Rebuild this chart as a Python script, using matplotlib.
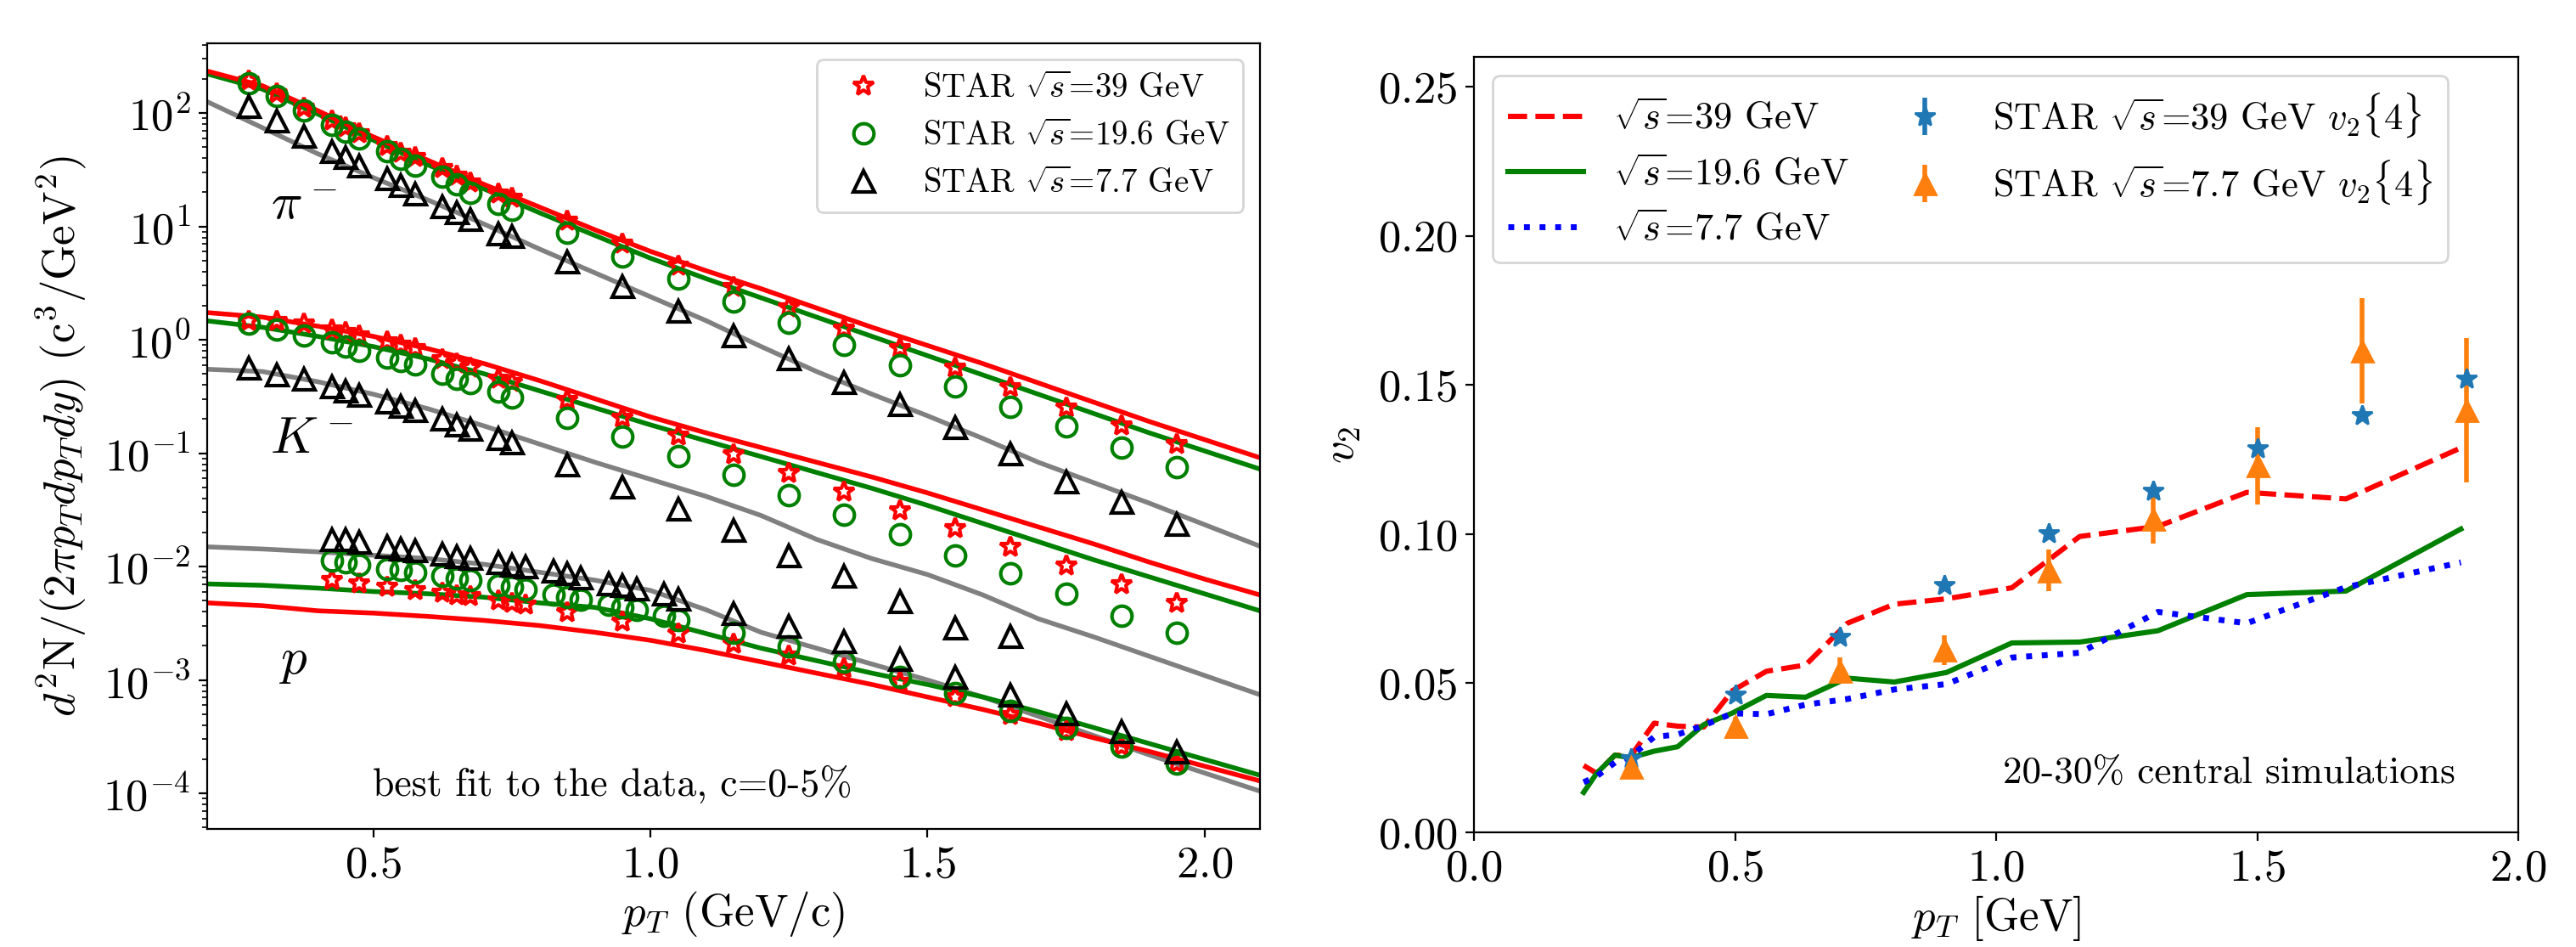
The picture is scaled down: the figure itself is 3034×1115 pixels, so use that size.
import numpy as np
import matplotlib
matplotlib.use("Agg")
import matplotlib.pyplot as plt

plt.rcParams.update({
    "font.family": "serif",
    "font.serif": ["cmr10"],
    "mathtext.fontset": "cm",
    "axes.formatter.use_mathtext": True,
    "axes.unicode_minus": False,
})

# ---------------- left panel data: STAR spectra ----------------
pt_pi = [0.275, 0.325, 0.375, 0.425, 0.45, 0.475, 0.525, 0.55, 0.575, 0.625, 0.65, 0.675,
         0.725, 0.75, 0.85, 0.95, 1.05, 1.15, 1.25, 1.35, 1.45, 1.55, 1.65, 1.75, 1.85, 1.95]
pi_39 = [192.8, 148.9, 111.7, 86.3, 74.8, 66.7, 51.5, 44.6, 40.9, 32.5, 28.1, 24.4, 19.4, 17.8,
         11.2, 7.09, 4.48, 2.91, 1.92, 1.26, 0.846, 0.566, 0.379, 0.253, 0.174, 0.120]
pi_19 = [182, 140.6, 105.4, 79.2, 68.6, 59.4, 45.9, 39.7, 34.4, 27.4, 23.7, 19.9, 15.8, 14.1,
         8.82, 5.47, 3.46, 2.18, 1.42, 0.906, 0.593, 0.390, 0.256, 0.171, 0.112, 0.075]
pi_77 = [115, 86.3, 62.9, 45.9, 40.9, 34.4, 26.6, 23.0, 19.4, 15.0, 13.3, 11.6, 8.67, 8.18,
         4.88, 2.99, 1.79, 1.10, 0.68, 0.425, 0.268, 0.169, 0.0995, 0.0561, 0.0369, 0.0237]

pt_K = pt_pi
K_39 = [1.46, 1.46, 1.38, 1.23, 1.16, 1.10, 0.96, 0.897, 0.847, 0.673, 0.617, 0.566, 0.450, 0.425,
        0.292, 0.206, 0.143, 0.0975, 0.0668, 0.0457, 0.0313, 0.0219, 0.0149, 0.0102, 0.00692, 0.00478]
K_19 = [1.38, 1.23, 1.10, 0.949, 0.871, 0.798, 0.692, 0.653, 0.606, 0.505, 0.450, 0.413, 0.347, 0.310,
        0.204, 0.139, 0.0946, 0.0646, 0.0425, 0.0285, 0.0193, 0.0126, 0.00869, 0.00575, 0.00369, 0.00263]
pt_K77 = pt_pi[:23]
K_77 = [0.566, 0.490, 0.450, 0.390, 0.357, 0.328, 0.284, 0.261, 0.239, 0.201, 0.179, 0.165, 0.135,
        0.124, 0.0787, 0.0505, 0.0322, 0.0209, 0.0126, 0.00832, 0.00493, 0.00287, 0.00243]

pt_p = [0.425, 0.45, 0.475, 0.525, 0.55, 0.575, 0.625, 0.65, 0.675, 0.725, 0.75, 0.775, 0.825, 0.85,
        0.875, 0.925, 0.95, 0.975, 1.025, 1.05, 1.15, 1.25, 1.35, 1.45, 1.55, 1.65, 1.75, 1.85, 1.95]
p_77 = [0.0174, 0.0174, 0.0164, 0.0151, 0.0145, 0.0140, 0.0129, 0.0124, 0.0120, 0.0110, 0.0103, 0.0100,
        0.00912, 0.00869, 0.00806, 0.00713, 0.00691, 0.00643, 0.00575, 0.00524, 0.00390, 0.00301,
        0.00221, 0.00153, 0.00107, 0.00074, 0.000505, 0.000354, 0.000234]
p_19 = [0.0113, 0.0110, 0.0103, 0.00952, 0.00929, 0.00885, 0.00822, 0.00782, 0.00759, 0.00691, 0.00658,
        0.00631, 0.00568, 0.00541, 0.00515, 0.00458, 0.00436, 0.00415, 0.00367, 0.00340, 0.00263,
        0.00199, 0.00146, 0.00107, 0.000763, 0.000537, 0.000376, 0.000260, 0.000183]
pt_p39 = [0.425, 0.475, 0.525, 0.575, 0.625, 0.65, 0.675, 0.725, 0.75, 0.775, 0.85, 0.95, 1.05, 1.15,
          1.25, 1.35, 1.45, 1.55, 1.65, 1.75, 1.85, 1.95]
p_39 = [0.00759, 0.00713, 0.00658, 0.00619, 0.00582, 0.00557, 0.00547, 0.00499, 0.00478, 0.00463,
        0.00397, 0.00324, 0.00258, 0.00208, 0.00163, 0.00127, 0.000964, 0.000709, 0.000490,
        0.000354, 0.000260, 0.000183]

# model curves (log10 of yield) on a pT grid
pt_model = [0.2, 0.3, 0.4, 0.5, 0.6, 0.7, 0.8, 0.9, 1.0, 1.1, 1.2, 1.3, 1.4, 1.5, 1.6, 1.7, 1.8, 1.9, 2.0, 2.1]
lpi_39 = [2.37, 2.24, 2.02, 1.79, 1.58, 1.37, 1.17, 0.97, 0.78, 0.61, 0.45, 0.28, 0.11, -0.05,
          -0.21, -0.38, -0.55, -0.72, -0.88, -1.04]
lpi_19 = [2.345, 2.21, 1.99, 1.76, 1.54, 1.33, 1.12, 0.92, 0.72, 0.54, 0.37, 0.20, 0.03, -0.14,
          -0.31, -0.48, -0.65, -0.82, -0.98, -1.14]
lpi_77 = [2.10, 1.87, 1.64, 1.43, 1.23, 1.02, 0.80, 0.59, 0.38, 0.17, -0.06, -0.28, -0.48, -0.67,
          -0.87, -1.08, -1.26, -1.44, -1.63, -1.82]
lK_39 = [0.24, 0.20, 0.12, 0.03, -0.08, -0.21, -0.36, -0.52, -0.68, -0.82, -0.95, -1.08, -1.21,
         -1.35, -1.50, -1.65, -1.80, -1.96, -2.11, -2.25]
lK_19 = [0.167, 0.11, 0.03, -0.06, -0.17, -0.30, -0.45, -0.60, -0.75, -0.89, -1.03, -1.17, -1.31,
         -1.46, -1.62, -1.78, -1.94, -2.09, -2.24, -2.39]
lK_77 = [-0.26, -0.28, -0.37, -0.48, -0.61, -0.76, -0.92, -1.08, -1.23, -1.38, -1.55, -1.76, -1.93,
         -2.07, -2.25, -2.46, -2.62, -2.79, -2.96, -3.13]
lp_39 = [-2.32, -2.345, -2.39, -2.41, -2.44, -2.475, -2.52, -2.58, -2.65, -2.74, -2.84, -2.94, -3.04,
         -3.15, -3.26, -3.38, -3.51, -3.63, -3.76, -3.89]
lp_19 = [-2.153, -2.165, -2.19, -2.22, -2.24, -2.27, -2.32, -2.36, -2.46, -2.59, -2.72, -2.83, -2.94,
         -3.04, -3.15, -3.28, -3.42, -3.56, -3.70, -3.84]
lp_77 = [-1.826, -1.845, -1.87, -1.90, -1.93, -1.98, -2.05, -2.12, -2.21, -2.38, -2.58, -2.72, -2.86,
         -3.00, -3.15, -3.32, -3.49, -3.66, -3.82, -3.98]

# ---------------- right panel data: v2 ----------------
pt_v2 = [0.21, 0.235, 0.27, 0.30, 0.345, 0.39, 0.44, 0.495, 0.56, 0.635, 0.715, 0.805, 0.905,
         1.03, 1.16, 1.31, 1.48, 1.67, 1.89]
v2_39 = [0.0224, 0.0198, 0.0259, 0.0255, 0.0366, 0.0356, 0.0353, 0.0475, 0.0540, 0.0561, 0.0701,
         0.0765, 0.0783, 0.0820, 0.0992, 0.1026, 0.1140, 0.1118, 0.1289]
v2_19 = [0.0134, 0.0198, 0.0259, 0.0250, 0.0272, 0.0287, 0.0361, 0.0400, 0.0459, 0.0453, 0.0517,
         0.0504, 0.0536, 0.0635, 0.0638, 0.0676, 0.0797, 0.0809, 0.1017]
v2_77 = [0.0168, 0.0188, 0.0234, 0.0254, 0.0320, 0.0328, 0.0358, 0.0399, 0.0396, 0.0428, 0.0447,
         0.0479, 0.0497, 0.0586, 0.0602, 0.0739, 0.0701, 0.0822, 0.0905]

pt_star = [0.3, 0.5, 0.7, 0.9, 1.1, 1.3, 1.5, 1.7, 1.9]
star39_v2 = [0.0249, 0.0461, 0.0654, 0.0828, 0.1003, 0.1146, 0.1287, 0.1398, 0.1521]
star39_err = [0.001, 0.001, 0.0015, 0.0015, 0.002, 0.002, 0.002, 0.002, 0.002]
star77_v2 = [0.0219, 0.0357, 0.0542, 0.0612, 0.0878, 0.1050, 0.1229, 0.1615, 0.1415]
star77_err = [0.002, 0.003, 0.0045, 0.005, 0.007, 0.0081, 0.013, 0.0177, 0.0243]

# ---------------- figure ----------------
fig = plt.figure(figsize=(15.17, 5.575), dpi=200)
ax1 = fig.add_axes([0.0804, 0.1247, 0.4087, 0.8296])
ax2 = fig.add_axes([0.5722, 0.1211, 0.4054, 0.8188])

lw = 2.0
pm = np.array(pt_model)
for l39, l19, l77 in [(lpi_39, lpi_19, lpi_77), (lK_39, lK_19, lK_77), (lp_39, lp_19, lp_77)]:
    ax1.plot(pm, 10 ** np.array(l77), color="gray", lw=lw)
    ax1.plot(pm, 10 ** np.array(l19), color="green", lw=lw)
    ax1.plot(pm, 10 ** np.array(l39), color="red", lw=lw)

mk = dict(linestyle="none", mfc="none", mew=1.5)
s1, = ax1.plot(pt_pi, pi_39, marker="*", mec="red", ms=9, **mk)
ax1.plot(pt_K, K_39, marker="*", mec="red", ms=9, **mk)
ax1.plot(pt_p39, p_39, marker="*", mec="red", ms=9, **mk)
s2, = ax1.plot(pt_pi, pi_19, marker="o", mec="green", ms=8.5, **mk)
ax1.plot(pt_K, K_19, marker="o", mec="green", ms=8.5, **mk)
ax1.plot(pt_p, p_19, marker="o", mec="green", ms=8.5, **mk)
s3, = ax1.plot(pt_pi, pi_77, marker="^", mec="black", ms=9, **mk)
ax1.plot(pt_K77, K_77, marker="^", mec="black", ms=9, **mk)
ax1.plot(pt_p, p_77, marker="^", mec="black", ms=9, **mk)

ax1.set_yscale("log")
ax1.set_xlim(0.2, 2.1)
ax1.set_ylim(4.86e-5, 412)
ax1.set_xticks([0.5, 1.0, 1.5, 2.0])
ax1.tick_params(labelsize=19)
ax1.set_xlabel(r"$p_T$ (GeV/c)", fontsize=19, labelpad=2)
ax1.set_ylabel(r"$d^2{\rm N}/(2\pi p_T dp_T dy)$ (c$^3$/GeV$^2$)", fontsize=19)
ax1.yaxis.set_label_coords(-0.113, 0.5)
ax1.legend([s1, s2, s3],
           [r"STAR $\sqrt{s}$=39 GeV", r"STAR $\sqrt{s}$=19.6 GeV", r"STAR $\sqrt{s}$=7.7 GeV"],
           loc="upper right", fontsize=14)
ax1.text(0.374, 15, r"$\pi^-$", fontsize=22, ha="center", va="center")
ax1.text(0.388, 0.133, r"$K^-$", fontsize=22, ha="center", va="center")
ax1.text(0.355, 0.00145, r"$p$", fontsize=22, ha="center", va="center")
ax1.text(0.385, 0.042, "best fit to the data, c=0-5%", fontsize=16.5, ha="center",
         va="baseline", transform=ax1.transAxes)

# right panel
h1, = ax2.plot(pt_v2, v2_39, "--", color="red", lw=2.2, label=r"$\sqrt{s}$=39 GeV")
h2, = ax2.plot(pt_v2, v2_19, "-", color="green", lw=2.2, label=r"$\sqrt{s}$=19.6 GeV")
h3, = ax2.plot(pt_v2, v2_77, ":", color="blue", lw=2.5, label=r"$\sqrt{s}$=7.7 GeV")
h4 = ax2.errorbar(pt_star, star39_v2, yerr=star39_err, fmt="*", color="C0", ms=9, elinewidth=2,
                  label=r"STAR $\sqrt{s}$=39 GeV $v_2\{4\}$")
h5 = ax2.errorbar(pt_star, star77_v2, yerr=star77_err, fmt="^", color="C1", ms=9, elinewidth=2,
                  label=r"STAR $\sqrt{s}$=7.7 GeV $v_2\{4\}$")
ax2.set_xlim(0, 2.0)
ax2.set_ylim(0, 0.26)
ax2.set_xticks([0.0, 0.5, 1.0, 1.5, 2.0])
ax2.set_yticks([0.0, 0.05, 0.10, 0.15, 0.20, 0.25])
ax2.tick_params(labelsize=19)
ax2.set_xlabel(r"$p_T$ [GeV]", fontsize=19, labelpad=2)
ax2.set_ylabel(r"$v_2$", fontsize=19)
ax2.yaxis.set_label_coords(-0.1065, 0.5)
ax2.legend(handles=[h1, h2, h3, h4, h5], loc="upper left", ncol=2, fontsize=16,
           columnspacing=1.0)
ax2.text(0.9395, 0.064, "20-30% central simulations", fontsize=16.3, ha="right",
         va="baseline", transform=ax2.transAxes)

fig.savefig("out.png", dpi=200)
